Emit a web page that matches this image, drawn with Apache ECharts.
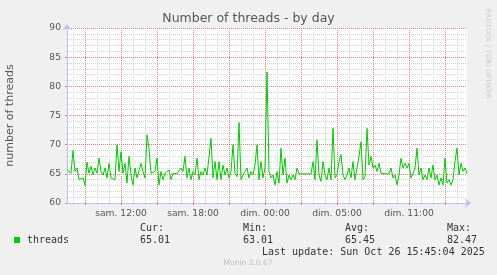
<!DOCTYPE html>
<html><head><meta charset="utf-8">
<script src="https://cdn.jsdelivr.net/npm/echarts@6/dist/echarts.min.js"></script>
<style>html,body{margin:0;padding:0;background:#f0f0f0}#c{width:497px;height:275px}</style>
</head><body><div id="c"></div>
<script>
// number of threads, one value per 10-minute slot
const threads = [
65.7, 66, 65.1, 69, 65.4, 66, 64, 64, 64.3, 63.01,
67, 65.1, 66.3, 64.8, 66, 65.1, 67.7, 65.4, 64.8, 66,
64.3, 66.8, 64.3, 64, 64, 70, 65.4, 68.8, 65.1, 66.8,
63.4, 68, 64.8, 63.1, 66, 64.3, 64.5, 66.8, 65.4, 64.3,
71.7, 69.4, 65.1, 64.8, 65.4, 67.7, 63.1, 65.4, 64, 65.1,
64.8, 65.7, 64, 65.1, 65, 65, 64.8, 66, 65.4, 68,
64.3, 66, 64, 65.4, 64.8, 67.7, 64, 65.4, 64.8, 66,
64.8, 64.5, 71.1, 64.3, 67.1, 64, 67.1, 64, 66.5, 64.8,
66, 64.3, 65.4, 70, 65.1, 64.5, 73.8, 64, 64.8, 65.4,
66, 64.3, 65.4, 64.8, 66.5, 70, 64, 67.1, 64.3, 66,
82.47, 65.4, 64.3, 64.8, 63.1, 65.4, 63.4, 69.4, 64.8, 67.7,
63.4, 64.8, 64, 64.8, 64, 66, 65, 65, 65, 65,
65, 65, 65, 67.1, 64, 70.8, 64.8, 63.7, 67.1, 64.8,
64, 66, 64, 72.8, 64.3, 64.8, 67.1, 68.3, 64.8, 64,
64.8, 66, 64.3, 67.1, 64, 66, 68, 70.5, 64, 64.5,
72.8, 66.5, 68, 66, 66.5, 65.4, 66.8, 65.1, 65, 65,
65, 65, 66, 64.3, 64.8, 63.1, 64.8, 67.7, 66, 66.8,
66, 66.8, 64.3, 65, 66, 69.4, 64.8, 66, 64, 64.8,
64, 66, 64.3, 66.5, 64, 64.8, 63.1, 64.3, 63.1, 67.7,
63.4, 64, 63.1, 64, 67.1, 69.4, 64.8, 66.8, 65.4, 66,
65.01
];
const tickLabels = ['sam. 12:00', 'sam. 18:00', 'dim. 00:00', 'dim. 05:00', 'dim. 11:00'];
const tickSlots = [27, 63, 99, 135, 171];
const yTicks = [60, 65, 70, 75, 80, 85, 90];
const statHeads = ['Cur:', 'Min:', 'Avg:', 'Max:'];
const statValues = ['65.01', '63.01', '65.45', '82.47'];
const seriesName = 'threads';
const lastUpdate = 'Last update: Sun Oct 26 15:45:04 2025';

const slots = threads.map((_, i) => String(i));
const SANS = 'DejaVu Sans', MONO = 'DejaVu Sans Mono';
const MAJOR = '#e08080', MINOR = '#d4d4d4', AXIS = '#c0c0f2';
const isMajor = i => i % 18 === 9;
const isMinor = i => i % 6 === 3 && !isMajor(i);
const statX = [140, 243, 345, 447];

const chart = echarts.init(document.getElementById('c'), null, {renderer: 'canvas'});
const graphics = [];
statHeads.forEach((h, k) => {
  graphics.push({type: 'text', left: statX[k], top: 223, style: {text: h, font: '10px "' + MONO + '"', fill: '#333'}});
  graphics.push({type: 'text', left: statX[k], top: 235, style: {text: statValues[k], font: '10px "' + MONO + '"', fill: '#333'}});
});
graphics.push({type: 'text', left: 262, top: 247, style: {text: lastUpdate, font: '10px "' + MONO + '"', fill: '#333'}});
graphics.push({type: 'text', x: 248, y: 263.5, style: {text: 'Munin 2.0.67', font: '7.5px "' + SANS + '"', fill: '#bdbdbd', align: 'center', verticalAlign: 'middle'}});
graphics.push({type: 'text', x: 488, y: 53.5, rotation: -Math.PI / 2, style: {text: 'RRDTOOL / TOBI OETIKER', font: '7px "' + SANS + '"', fill: '#cccccc', align: 'center', verticalAlign: 'middle'}});

chart.setOption({
  animation: false,
  backgroundColor: '#f0f0f0',
  title: {text: 'Number of threads - by day', left: 'center', top: 12, padding: 0,
    textStyle: {fontFamily: SANS, fontSize: 12.5, fontWeight: 'normal', color: '#555'}},
  legend: {data: [seriesName], left: 14, top: 235, padding: 0, icon: 'rect', itemWidth: 6, itemHeight: 6, itemGap: 6,
    textStyle: {fontFamily: MONO, fontSize: 10, color: '#333', padding: [0, 0, 0, 2]}},
  grid: {left: 67, top: 28, width: 400, height: 175, show: true, backgroundColor: '#ffffff', borderWidth: 0,
    containLabel: false, outerBoundsMode: 'none'},
  xAxis: [
    {type: 'category', data: slots, boundaryGap: false, position: 'bottom', z: 3,
     axisLine: {show: true, lineStyle: {color: AXIS}, symbol: ['none', 'arrow'], symbolSize: [7, 6], symbolOffset: [0, 4]},
     axisTick: {show: true, interval: i => isMajor(i), length: 2, lineStyle: {color: '#e07a7a'}},
     axisLabel: {show: true, interval: i => tickSlots.includes(i), margin: 6, hideOverlap: false,
       formatter: (v, i) => tickLabels[tickSlots.indexOf(i)] || '',
       fontFamily: SANS, fontSize: 9.2, color: '#555'},
     splitLine: {show: true, interval: i => isMajor(i), lineStyle: {color: MAJOR, type: [1, 1]}}},
    {type: 'category', data: slots, boundaryGap: false, position: 'bottom', z: 1,
     axisLine: {show: false}, axisLabel: {show: false},
     axisTick: {show: true, interval: i => isMinor(i), length: 2, lineStyle: {color: MINOR}},
     splitLine: {show: true, interval: i => isMinor(i), lineStyle: {color: MINOR, type: [1, 1]}}}
  ],
  yAxis: {type: 'value', min: yTicks[0], max: yTicks[yTicks.length - 1], interval: yTicks[1] - yTicks[0], z: 2,
    axisLine: {show: true, lineStyle: {color: AXIS}, symbol: ['none', 'arrow'], symbolSize: [7, 6], symbolOffset: [0, 4]},
    axisTick: {show: true, length: 2, lineStyle: {color: '#e07a7a'}},
    minorTick: {show: true, splitNumber: 5, length: 1, lineStyle: {color: MINOR}},
    axisLabel: {margin: 6, fontFamily: SANS, fontSize: 9.2, color: '#555'},
    splitLine: {show: true, lineStyle: {color: MAJOR, type: [1, 1]}},
    minorSplitLine: {show: true, lineStyle: {color: MINOR, type: [1, 1]}},
    name: 'number of threads', nameLocation: 'middle', nameGap: 51,
    nameTextStyle: {fontFamily: SANS, fontSize: 11, color: '#555'}},
  graphic: graphics,
  series: [{name: seriesName, type: 'line', xAxisIndex: 0, data: threads, showSymbol: false, symbol: 'none',
    lineStyle: {color: '#00cc00', width: 1}, itemStyle: {color: '#00cc00'}, z: 5}]
});
</script></body></html>
